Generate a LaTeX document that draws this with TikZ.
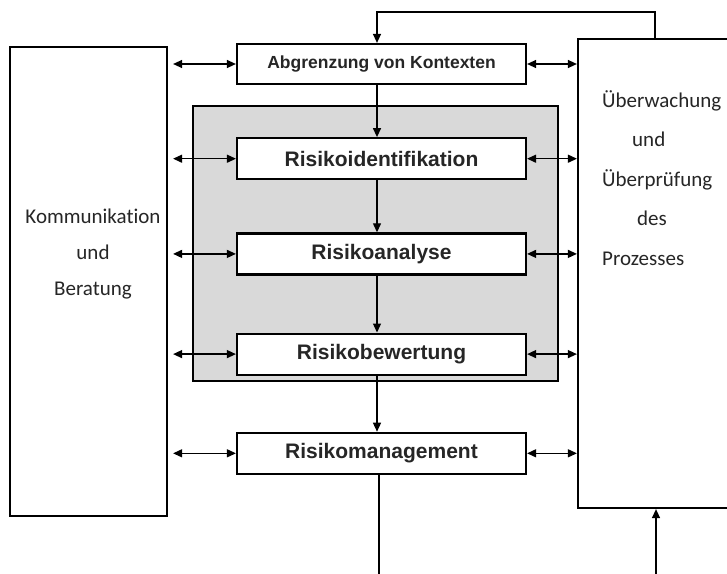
\documentclass[tikz,border=0pt]{standalone}
\usepackage{fontspec}
\setmainfont[Ligatures=NoCommon]{Carlito}
\newfontfamily\boxfont[Ligatures=NoCommon]{Liberation Sans}
\usetikzlibrary{arrows.meta,positioning}

\begin{document}
\begin{tikzpicture}[x=1pt,y=-1pt,
    stepbox/.style={draw,line width=2.2pt,fill=white,minimum width=289pt,minimum height=41pt,
      inner sep=0pt,font=\boxfont\bfseries\fontsize{21}{25}\selectfont,text=black!85},
    sidebox/.style={draw,line width=2.2pt,fill=white,inner sep=0pt},
    sidetext/.style={text=black!85,inner sep=0pt},
    arrow/.style={line width=1.3pt,-{Triangle[length=9pt,width=8pt]}},
    biarrow/.style={line width=1.3pt,{Triangle[length=9pt,width=8pt]}-{Triangle[length=9pt,width=8pt]}}]
  \useasboundingbox (0,0) rectangle (727,573);
  \clip (0,0) rectangle (727,573);

  % side boxes
  \node[sidebox,minimum width=157pt,minimum height=469pt] (comm) at (88.5,281.5) {};
  \node[sidebox,minimum width=182pt,minimum height=469pt] (mon) at (669,273.5) {};
  \node[sidetext,align=center,font=\fontsize{21}{36}\selectfont] (commtext) at (93,254)
    {Kommunikation\\und\\Beratung};
  \node[sidetext,align=left,anchor=west,font=\fontsize{21}{39.6}\selectfont] (montext) at (602,178)
    {Überwachung\\\hspace{30pt}und\\Überprüfung\\\hspace{35pt}des\\Prozesses};

  % grey panel round the assessment steps
  \node[draw,line width=2.2pt,fill=black!15,minimum width=365pt,minimum height=275pt] (panel)
    at (375.5,243.5) {};

  % process steps
  \node[stepbox,minimum height=40pt,font=\boxfont\bfseries\fontsize{17.5}{21}\selectfont] (abg)
    at (381.5,64) {Abgrenzung von Kontexten};
  \node[stepbox,below=52pt of abg] (ident) {Risikoidentifikation};
  \node[stepbox,below=52pt of ident] (ana) {Risikoanalyse};
  \node[stepbox,below=57pt of ana] (bew) {Risikobewertung};
  \node[stepbox,below=56pt of bew] (man) {Risikomanagement};

  \coordinate (spine) at (377,0);
  \coordinate (top) at (655,12);
  \coordinate (out) at (379,576);
  \coordinate (in) at (656,576);

  % flow down the steps
  \foreach \a/\b in {abg/ident,ident/ana,ana/bew,bew/man}
    \draw[arrow] (\a.south -| spine) -- (\b.north -| spine);

  % links to both side boxes
  \foreach \n in {abg,ident,ana,bew,man} {
    \draw[biarrow,shorten <=5pt] (comm.east |- \n) -- (\n.west);
    \draw[biarrow] (\n.east) -- (mon.west |- \n);
  }

  % feedback and ends
  \draw[arrow] (mon.north -| top) -- (top) -- (top -| spine) -- (abg.north -| spine);
  \draw[line width=1.3pt] (man.south -| out) -- (out);
  \draw[arrow] (in) -- (mon.south -| in);
\end{tikzpicture}
\end{document}
